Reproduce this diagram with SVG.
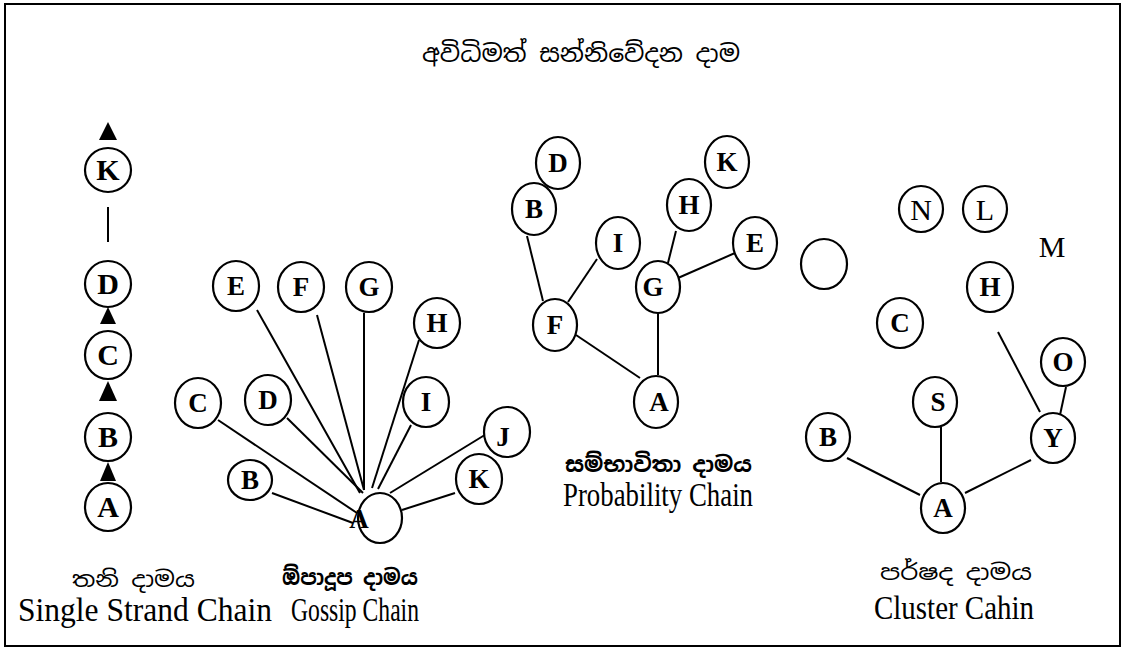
<svg xmlns="http://www.w3.org/2000/svg" width="1123" height="647" viewBox="0 0 1123 647">
<style>
.n{fill:#fff;stroke:#000;stroke-width:2.2}
.o{fill:none;stroke:#000;stroke-width:2.2}
.l{font-family:"Liberation Serif","Times New Roman",serif;font-weight:bold;font-size:27px;text-anchor:middle;fill:#000}
.big{font-size:30px}
.r{font-family:"Liberation Serif","Times New Roman",serif;font-size:30px;text-anchor:middle;fill:#000}
.e{font-family:"Liberation Serif","Times New Roman",serif;font-size:33px;fill:#000}
.s{font-family:"Noto Sans Sinhala","Noto Serif Sinhala","Iskoola Pota","Noto Sans",sans-serif;font-size:22px;fill:#000}
.ti{font-size:24px}
#edges line{stroke:#000;stroke-width:2}
.t{fill:#000}
</style>
<rect x="5" y="4" width="1115" height="642" fill="#fff" stroke="#000" stroke-width="2"/>
<text class="s ti" x="422" y="62" textLength="318" lengthAdjust="spacingAndGlyphs">අවිධිමත් සන්නිවේදන දාම</text>

<g id="edges">
<line x1="108" y1="207" x2="108" y2="242"/>
<polygon class="t" points="108,122 99,140 117,140"/>
<polygon class="t" points="108,307 100,324 116,324"/>
<polygon class="t" points="108,381 99,401 117,401"/>
<polygon class="t" points="108,462 100,481 116,481"/>
<line x1="257" y1="310" x2="360" y2="493"/>
<line x1="317" y1="315" x2="364" y2="490"/>
<line x1="364" y1="313" x2="364" y2="490"/>
<line x1="419" y1="340" x2="372" y2="488"/>
<line x1="411" y1="425" x2="378" y2="489"/>
<line x1="287" y1="418" x2="363" y2="493"/>
<line x1="218" y1="420" x2="357" y2="513"/>
<line x1="272" y1="493" x2="353" y2="523"/>
<line x1="488" y1="433" x2="390" y2="493"/>
<line x1="455" y1="493" x2="402" y2="510"/>
<line x1="527" y1="236" x2="543" y2="301"/>
<line x1="597" y1="259" x2="568" y2="302"/>
<line x1="658" y1="310" x2="658" y2="375"/>
<line x1="576" y1="335" x2="640" y2="378"/>
<line x1="676" y1="231" x2="668" y2="263"/>
<line x1="678" y1="278" x2="735" y2="253"/>
<line x1="998" y1="332" x2="1040" y2="412"/>
<line x1="1066" y1="387" x2="1060" y2="415"/>
<line x1="941" y1="427" x2="941" y2="482"/>
<line x1="847" y1="458" x2="920" y2="495"/>
<line x1="1031" y1="460" x2="965" y2="493"/>
</g>

<g id="single-K"><ellipse class="n" cx="108" cy="170" rx="23" ry="22"/><text class="l big" x="108" y="180">K</text></g>
<g id="single-D"><ellipse class="n" cx="108" cy="284" rx="23" ry="23"/><text class="l big" x="108" y="294">D</text></g>
<g id="single-C"><ellipse class="n" cx="108" cy="355" rx="23" ry="24"/><text class="l big" x="108" y="365">C</text></g>
<g id="single-B"><ellipse class="n" cx="108" cy="437" rx="23" ry="24"/><text class="l big" x="108" y="447">B</text></g>
<g id="single-A"><ellipse class="n" cx="108" cy="507" rx="23" ry="24"/><text class="l big" x="108" y="517">A</text></g>

<g id="gossip-E"><ellipse class="n" cx="236" cy="286" rx="23" ry="25"/><text class="l" x="236" y="295">E</text></g>
<g id="gossip-F"><ellipse class="n" cx="301" cy="287" rx="23" ry="25"/><text class="l" x="301" y="296">F</text></g>
<g id="gossip-G"><ellipse class="n" cx="369" cy="287" rx="23" ry="25"/><text class="l" x="369" y="296">G</text></g>
<g id="gossip-H"><ellipse class="n" cx="437" cy="323" rx="23" ry="25"/><text class="l" x="437" y="332">H</text></g>
<g id="gossip-C"><ellipse class="n" cx="198" cy="403" rx="23" ry="25"/><text class="l" x="198" y="412">C</text></g>
<g id="gossip-D"><ellipse class="n" cx="268" cy="400" rx="23" ry="25"/><text class="l" x="268" y="409">D</text></g>
<g id="gossip-I"><ellipse class="n" cx="426" cy="402" rx="23" ry="25"/><text class="l" x="426" y="411">I</text></g>
<g id="gossip-J"><ellipse class="n" cx="507" cy="432" rx="23" ry="25"/><text class="l" x="503" y="446">J</text></g>
<g id="gossip-B"><ellipse class="n" cx="250" cy="480" rx="22" ry="20"/><text class="l" x="250" y="489">B</text></g>
<g id="gossip-K"><ellipse class="n" cx="479" cy="479" rx="23" ry="25"/><text class="l" x="479" y="488">K</text></g>
<g id="gossip-A"><text class="l" x="359" y="528">A</text><ellipse class="o" cx="380" cy="518" rx="22" ry="25"/></g>

<g id="prob-D"><ellipse class="n" cx="558" cy="163" rx="22" ry="26"/><text class="l" x="558" y="172">D</text></g>
<g id="prob-B"><ellipse class="n" cx="534" cy="209" rx="22" ry="26"/><text class="l" x="534" y="218">B</text></g>
<g id="prob-K"><ellipse class="n" cx="727" cy="162" rx="22" ry="26"/><text class="l" x="727" y="171">K</text></g>
<g id="prob-H"><ellipse class="n" cx="689" cy="205" rx="22" ry="26"/><text class="l" x="689" y="214">H</text></g>
<g id="prob-I"><ellipse class="n" cx="618" cy="243" rx="22" ry="26"/><text class="l" x="618" y="252">I</text></g>
<g id="prob-E"><ellipse class="n" cx="755" cy="243" rx="22" ry="26"/><text class="l" x="755" y="252">E</text></g>
<g id="prob-G"><ellipse class="n" cx="658" cy="287" rx="22" ry="26"/><text class="l" x="653" y="296">G</text></g>
<g id="prob-F"><ellipse class="n" cx="555" cy="325" rx="22" ry="26"/><text class="l" x="555" y="334">F</text></g>
<g id="prob-A"><ellipse class="n" cx="656" cy="402" rx="22" ry="26"/><text class="l" x="659" y="411">A</text></g>
<g id="empty"><ellipse class="n" cx="824" cy="264" rx="23" ry="25"/></g>

<g id="cl-N"><ellipse class="n" cx="921" cy="209" rx="22" ry="23"/><text class="r" x="921" y="220">N</text></g>
<g id="cl-L"><ellipse class="n" cx="985" cy="209" rx="22" ry="23"/><text class="r" x="985" y="220">L</text></g>
<g id="cl-M"><text class="r" x="1052" y="257">M</text></g>
<g id="cl-H"><ellipse class="n" cx="990" cy="287" rx="23" ry="25"/><text class="l" x="990" y="296">H</text></g>
<g id="cl-C"><ellipse class="n" cx="900" cy="323" rx="23" ry="25"/><text class="l" x="900" y="332">C</text></g>
<g id="cl-O"><ellipse class="n" cx="1063" cy="362" rx="22" ry="24"/><text class="l" x="1063" y="371">O</text></g>
<g id="cl-S"><ellipse class="n" cx="935" cy="402" rx="22" ry="25"/><text class="l" x="938" y="411">S</text></g>
<g id="cl-B"><ellipse class="n" cx="828" cy="437" rx="22" ry="24"/><text class="l" x="828" y="446">B</text></g>
<g id="cl-Y"><ellipse class="n" cx="1053" cy="438" rx="22" ry="25"/><text class="l" x="1053" y="447">Y</text></g>
<g id="cl-A"><ellipse class="n" cx="943" cy="508" rx="22" ry="25"/><text class="l" x="943" y="517">A</text></g>

<g id="labels">
<text class="s" x="72" y="587" textLength="123" lengthAdjust="spacingAndGlyphs">තනි දාමය</text>
<text class="e" x="18" y="621" textLength="254" lengthAdjust="spacingAndGlyphs">Single Strand Chain</text>
<text class="s" x="282" y="585" textLength="136" lengthAdjust="spacingAndGlyphs" font-weight="bold">ඕපාදූප දාමය</text>
<text class="e" x="291" y="621" textLength="128" lengthAdjust="spacingAndGlyphs">Gossip Chain</text>
<text class="s" x="565" y="472" textLength="187" lengthAdjust="spacingAndGlyphs" font-weight="bold">සම්භාවිතා දාමය</text>
<text class="e" x="563" y="506" textLength="190" lengthAdjust="spacingAndGlyphs">Probability Chain</text>
<text class="s" x="880" y="580" textLength="152" lengthAdjust="spacingAndGlyphs">පර්ෂද දාමය</text>
<text class="e" x="874" y="619" textLength="160" lengthAdjust="spacingAndGlyphs">Cluster Cahin</text>
</g>
</svg>
